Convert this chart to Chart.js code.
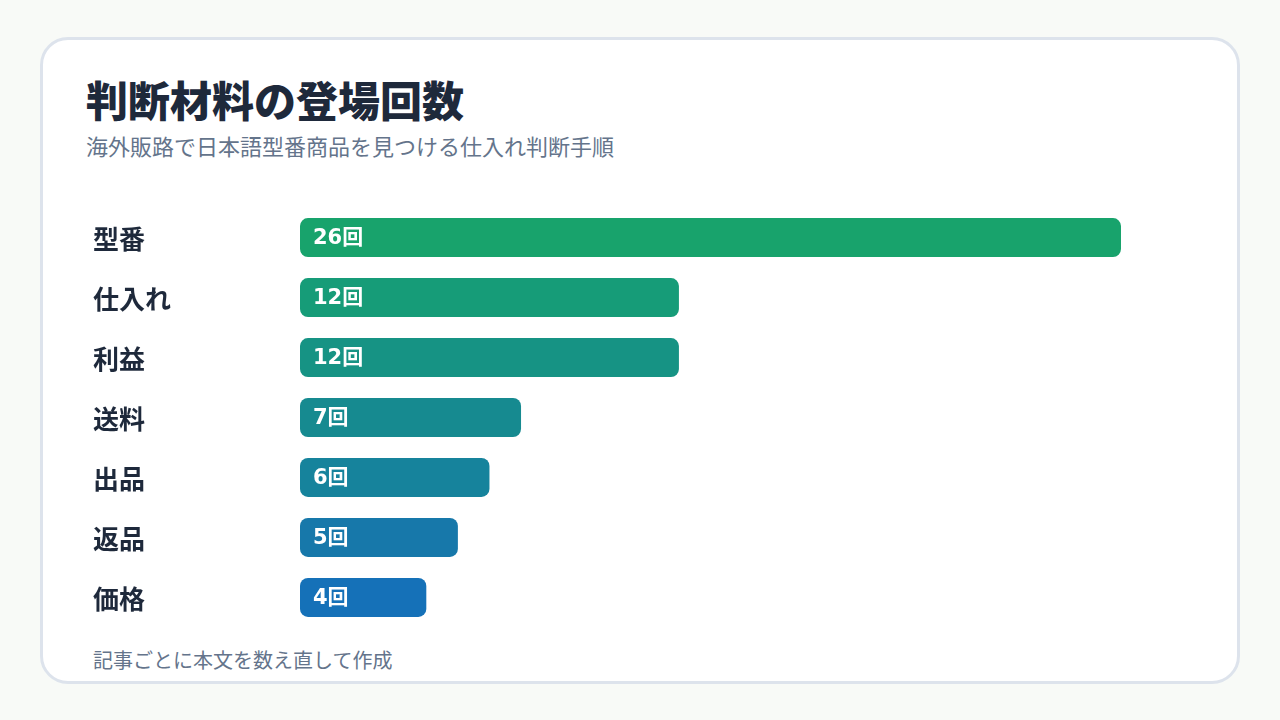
<!DOCTYPE html>
<html lang="ja">
<head>
<meta charset="utf-8">
<title>判断材料の登場回数</title>
<script src="https://cdn.jsdelivr.net/npm/chart.js@4"></script>
<style>
  html, body {
    margin: 0;
    padding: 0;
    background: #f8faf7;
    font-family: "DejaVu Sans", "Noto Sans CJK JP", sans-serif;
  }
  .card {
    position: absolute;
    left: 40px;
    top: 37px;
    width: 1194px;
    height: 641px;
    background: #fff;
    border: 3px solid #dde3ec;
    border-radius: 28px;
  }
  h1 {
    position: absolute;
    left: 43px;
    top: 35px;
    margin: 0;
    font-size: 42px;
    line-height: 56px;
    font-weight: 800;
    color: #1e293b;
  }
  .sub {
    position: absolute;
    left: 43px;
    top: 92px;
    margin: 0;
    font-size: 22px;
    line-height: 32px;
    color: #64748b;
  }
  .note {
    position: absolute;
    left: 50px;
    top: 607px;
    margin: 0;
    font-size: 20px;
    line-height: 28px;
    color: #64748b;
  }
  .chart-box {
    position: absolute;
    left: 50px;
    top: 152px;
    width: 1028px;
    height: 451px;
  }
</style>
</head>
<body>
<div class="card">
  <h1>判断材料の登場回数</h1>
  <p class="sub">海外販路で日本語型番商品を見つける仕入れ判断手順</p>
  <div class="chart-box"><canvas id="barChart"></canvas></div>
  <p class="note">記事ごとに本文を数え直して作成</p>
</div>
<script>
const categories = ["型番", "仕入れ", "利益", "送料", "出品", "返品", "価格"];
const counts = [26, 12, 12, 7, 6, 5, 4];
const barColors = ["#18a36c", "#169c78", "#169384", "#168a90", "#16839c", "#1778aa", "#1571b8"];

const fontFamily = "'DejaVu Sans', 'Noto Sans CJK JP', sans-serif";

// 棒の中に「○回」を描く
const valueLabels = {
  id: "valueLabels",
  afterDatasetsDraw(chart) {
    const ctx = chart.ctx;
    const meta = chart.getDatasetMeta(0);
    ctx.save();
    ctx.fillStyle = "#ffffff";
    ctx.font = "700 21px " + fontFamily;
    ctx.textAlign = "left";
    ctx.textBaseline = "middle";
    meta.data.forEach((bar, i) => {
      ctx.fillText(counts[i] + "回", bar.base + 13, bar.y + 1);
    });
    ctx.restore();
  }
};

window.onload = function () {
  const ctx = document.getElementById("barChart").getContext("2d");
  new Chart(ctx, {
    type: "bar",
    data: {
      labels: categories,
      datasets: [{
        data: counts,
        backgroundColor: barColors,
        borderRadius: 8,
        borderSkipped: false,
        barPercentage: 0.65,
        categoryPercentage: 1
      }]
    },
    options: {
      indexAxis: "y",
      responsive: true,
      maintainAspectRatio: false,
      animation: false,
      layout: { padding: 0 },
      plugins: {
        legend: { display: false },
        tooltip: { enabled: false }
      },
      scales: {
        x: {
          display: false,
          min: 0,
          max: 26
        },
        y: {
          grid: { display: false },
          border: { display: false },
          afterFit(scale) { scale.width = 207; },
          ticks: {
            crossAlign: "far",
            padding: 0,
            labelOffset: 5,
            color: "#1e293b",
            font: { family: fontFamily, size: 26, weight: "700", lineHeight: 1.2 }
          }
        }
      }
    },
    plugins: [valueLabels]
  });
};
</script>
</body>
</html>
